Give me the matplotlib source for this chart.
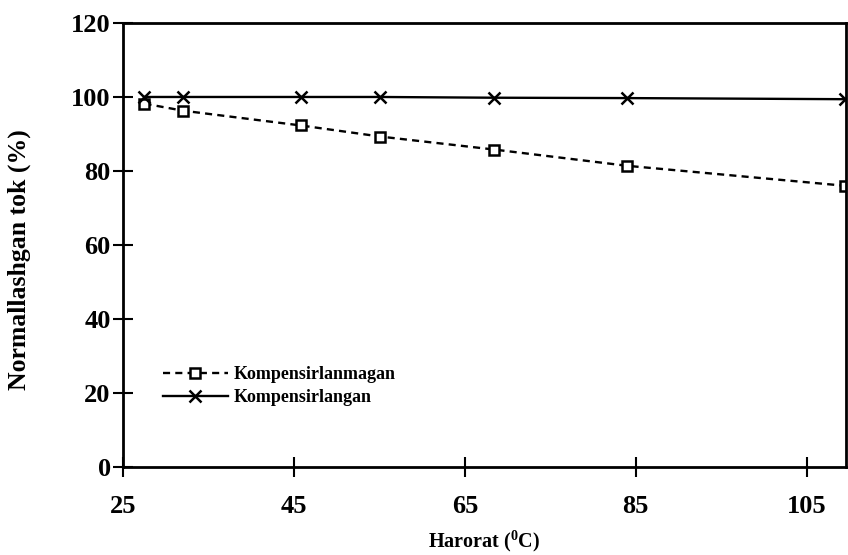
#!/usr/bin/env python

import matplotlib
matplotlib.use('Agg')
import matplotlib.pyplot as plt

# temperatures (deg C) and normalised current (%)
temp = [27.5, 32.0, 45.8, 55.1, 68.4, 84.0, 109.5]
uncomp = [98.2, 96.3, 92.3, 89.3, 85.8, 81.4, 76.0]
comp = [100.0, 100.0, 100.0, 100.0, 99.8, 99.7, 99.4]

xticks = [25, 45, 65, 85, 105]
yticks = [0, 20, 40, 60, 80, 100, 120]

matplotlib.rcParams.update({
    'font.family': 'Liberation Serif',
    'font.weight': 'bold',
    'axes.labelweight': 'bold',
    'mathtext.fontset': 'custom',
    'mathtext.rm': 'Liberation Serif:bold',
    'mathtext.bf': 'Liberation Serif:bold',
})


def main():
    fig = plt.figure(figsize=(8.48, 5.55), dpi=100)
    ax = fig.add_axes([0.1452, 0.1586, 0.8524, 0.8])

    ax.plot(temp, uncomp, color='black', ls=(0, (3, 2.2)), lw=1.7,
            marker='s', ms=7, mfc='white', mec='black', mew=1.8,
            label='Kompensirlanmagan')
    ax.plot(temp, comp, color='black', ls='-', lw=1.7,
            marker='x', ms=9, mew=1.8, label='Kompensirlangan')

    ax.set_xlim(25, 109.6)
    ax.set_ylim(0, 120)
    ax.set_xticks(xticks)
    ax.set_yticks(yticks)
    ax.tick_params(direction='inout', length=14, width=1.5, labelsize=19, pad=2)
    ax.tick_params(axis='x', pad=13)
    for s in ax.spines.values():
        s.set_linewidth(2)

    ax.set_xlabel(r'Harorat ($^{0}$C)', fontsize=14.5)
    ax.set_ylabel('Normallashgan tok (%)', fontsize=18.5)
    ax.xaxis.set_label_coords(0.5, -0.138)
    ax.yaxis.set_label_coords(-0.128, 0.466)

    ax.legend(loc='lower left', bbox_to_anchor=(0.045, 0.12), frameon=False,
              fontsize=13, handlelength=3.6, handletextpad=0.3,
              labelspacing=0.35, borderaxespad=0)

    fig.savefig('out.png', dpi=100)

if __name__ == "__main__":
    main()
